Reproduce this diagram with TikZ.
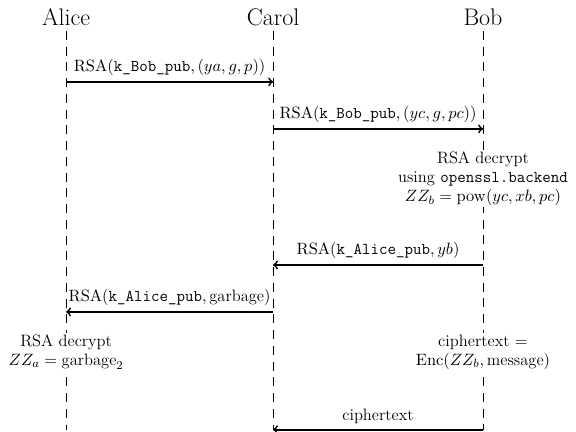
\documentclass[tikz,border=0pt]{standalone}
\usepackage{amsmath}
\usepackage{tikz}
\begin{document}
\begin{tikzpicture}[
    actor/.style={font=\fontsize{16}{19}\selectfont},
    life/.style={dash pattern=on 6pt off 4.5pt},
    msg/.style={->, line width=1.15pt},
    lbl/.style={font=\fontsize{11}{13}\selectfont, above, midway},
    note/.style={font=\fontsize{11}{12.5}\selectfont, fill=white, align=center, inner sep=1pt}]
    \useasboundingbox (0, 0) rectangle (13.5, 10.12);
    % actors and lifelines
    \node [actor] (alice) at (1.55, 9.72) {Alice};
    \node [actor] (carol) at (6.40, 9.72) {Carol};
    \node [actor] (bob) at (11.32, 9.72) {Bob};
    \coordinate (alice end) at (1.55, 0.05);
    \coordinate (carol end) at (6.40, 0.05);
    \coordinate (bob end) at (11.32, 0.05);
    \draw [life] (alice) -- (alice end);
    \draw [life] (carol) -- (carol end);
    \draw [life] (bob) -- (bob end);
    % messages
    \coordinate (a1) at (1.55, 8.20); \coordinate (c1) at (6.40, 8.20);
    \coordinate (c2) at (6.40, 7.10); \coordinate (b2) at (11.32, 7.10);
    \coordinate (b3) at (11.32, 3.91); \coordinate (c3) at (6.40, 3.91);
    \coordinate (c4) at (6.40, 2.81); \coordinate (a4) at (1.55, 2.81);
    \draw [msg] (a1) -- (c1) node [lbl] {$\mathrm{RSA}(\texttt{k\_Bob\_pub}, (ya, g, p))$};
    \draw [msg] (c2) -- (b2) node [lbl] {$\mathrm{RSA}(\texttt{k\_Bob\_pub}, (yc, g, pc))$};
    \node [note] (bobdec) at (11.32, 5.93) {RSA decrypt\\ using \texttt{openssl.backend}\\ $ZZ_b = \mathrm{pow}(yc, xb, pc)$};
    \draw [msg] (b3) -- (c3) node [lbl] {$\mathrm{RSA}(\texttt{k\_Alice\_pub}, yb)$};
    \draw [msg] (c4) -- (a4) node [lbl] {$\mathrm{RSA}(\texttt{k\_Alice\_pub}, \text{garbage})$};
    \node [note] (alicedec) at (1.55, 1.87) {RSA decrypt\\ $ZZ_a = \text{garbage}_2$};
    \node [note] (bobenc) at (11.32, 1.87) {ciphertext $=$\\ $\mathrm{Enc}(ZZ_b, \text{message})$};
    \draw [msg] (bob end) -- (carol end) node [lbl] {ciphertext};
\end{tikzpicture}
\end{document}
